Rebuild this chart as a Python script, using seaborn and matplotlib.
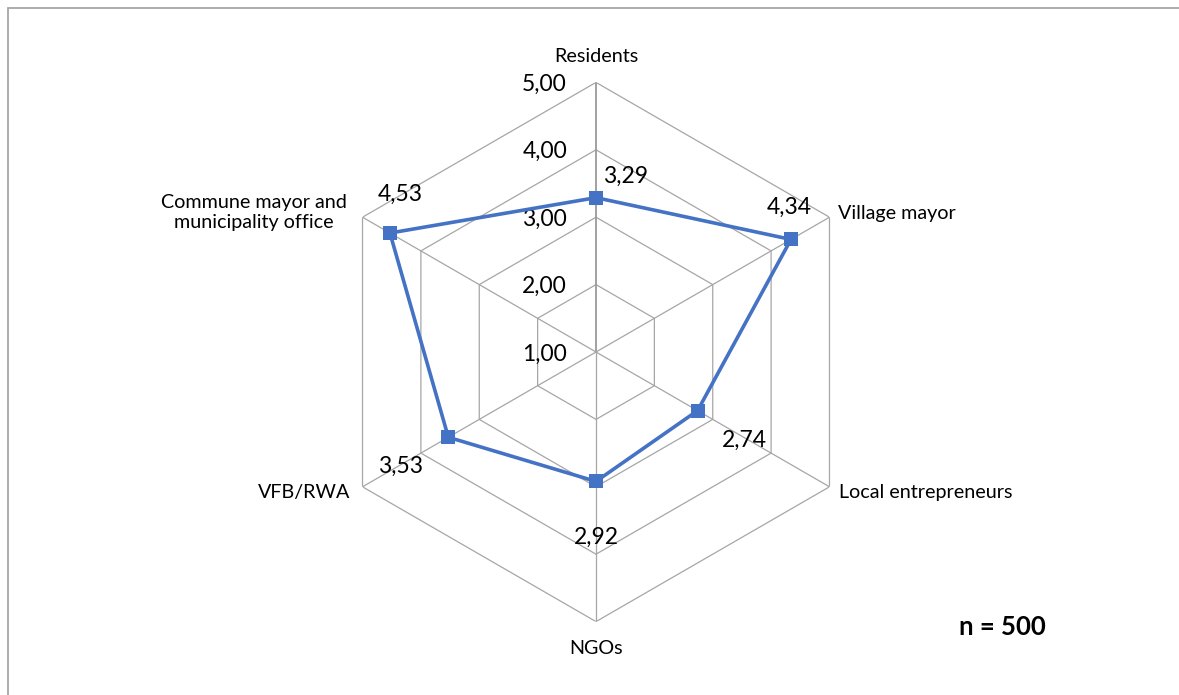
import numpy as np
import pandas as pd
import matplotlib
matplotlib.use("Agg")
import matplotlib.pyplot as plt
from matplotlib.lines import Line2D
import seaborn as sns

# Stakeholder ratings (mean score, 1-5 scale)
categories = ["Residents", "Village mayor", "Local entrepreneurs", "NGOs",
              "VFB/RWA", "Commune mayor and\nmunicipality office"]
scores = [3.29, 4.34, 2.74, 2.92, 3.53, 4.53]
score_labels = ["3,29", "4,34", "2,74", "2,92", "3,53", "4,53"]
ring_values = [1, 2, 3, 4, 5]
ring_labels = ["1,00", "2,00", "3,00", "4,00", "5,00"]
sample_note = "n = 500"

sns.set_theme(style="white")
plt.rcParams["font.family"] = ["Lato", "DejaVu Sans"]

W, H, DPI = 1179, 695, 100
fig = plt.figure(figsize=(W / DPI, H / DPI), dpi=DPI)
fig.patch.set_facecolor("white")

# Polar axes placed so the chart centre sits slightly left of the middle
cx, cy, R = 596, 352, 269.6
ax = fig.add_axes([(cx - R) / W, (H - cy - R) / H, 2 * R / W, 2 * R / H],
                  projection="polar")
ax.set_theta_zero_location("N")
ax.set_theta_direction(-1)
ax.set_ylim(1, 5)
ax.grid(False)
ax.spines["polar"].set_visible(False)
ax.set_xticks([])
ax.set_yticks([])
ax.set_facecolor("none")

n = len(categories)
theta = np.arange(n) * 2 * np.pi / n
theta_closed = np.append(theta, theta[0])

grid_col = "#a6a6a6"
# Hexagonal rings
for v in ring_values[1:]:
    ax.plot(theta_closed, [v] * (n + 1), color=grid_col, lw=0.9, zorder=1)
# Spokes
for i, t in enumerate(theta):
    ax.plot([t, t], [1, 5], color="#9a9a9a" if i == 0 else grid_col,
            lw=1.3 if i == 0 else 0.9, zorder=1)

# Scale labels along the top spoke
for v, lab in zip(ring_values, ring_labels):
    ax.annotate(lab, xy=(0, v), xytext=(-29, -2), textcoords="offset pixels",
                ha="right", va="center", fontsize=16.5, color="#000000",
                annotation_clip=False)

# Data series
df = pd.DataFrame({"theta": theta_closed, "score": scores + [scores[0]]})
sns.lineplot(data=df, x="theta", y="score", ax=ax, sort=False, estimator=None,
             color="#4472C4", lw=2.6, marker="s", markersize=10,
             markeredgecolor="#4472C4", markeredgewidth=0, zorder=3)
ax.set_xlabel("")
ax.set_ylabel("")

# Value labels
value_offsets = [(30, 21), (-2, 32), (47, -30), (0, -56), (-48, -29), (10, 39)]
for t, v, lab, (dx, dy) in zip(theta, scores, score_labels, value_offsets):
    ax.annotate(lab, xy=(t, v), xytext=(dx, dy), textcoords="offset pixels",
                ha="center", va="center", fontsize=16.5, color="#000000",
                annotation_clip=False, zorder=4)

# Category labels at the outer ring
cat_style = [((0, 26), "center"), ((9, 4), "left"), ((10, -6), "left"),
             ((0, -27), "center"), ((-12, -6), "right"), ((-16, 5), "right")]
for t, lab, ((dx, dy), ha) in zip(theta, categories, cat_style):
    ax.annotate(lab, xy=(t, 5), xytext=(dx, dy), textcoords="offset pixels",
                ha=ha, va="center", multialignment="center", fontsize=14.2,
                color="#000000", linespacing=1.2, annotation_clip=False)

fig.text(1002 / W, (H - 627) / H, sample_note, ha="center", va="center",
         fontsize=18.5, fontweight="bold", color="#000000")

# Chart frame (left and top edges)
fig.add_artist(Line2D([8 / W, 8 / W], [0, (H - 8) / H], transform=fig.transFigure,
                      color="#a0a0a0", lw=1.2))
fig.add_artist(Line2D([8 / W, 1], [(H - 8) / H, (H - 8) / H],
                      transform=fig.transFigure, color="#a0a0a0", lw=1.2))

fig.savefig("out.png", dpi=DPI, facecolor="white")
